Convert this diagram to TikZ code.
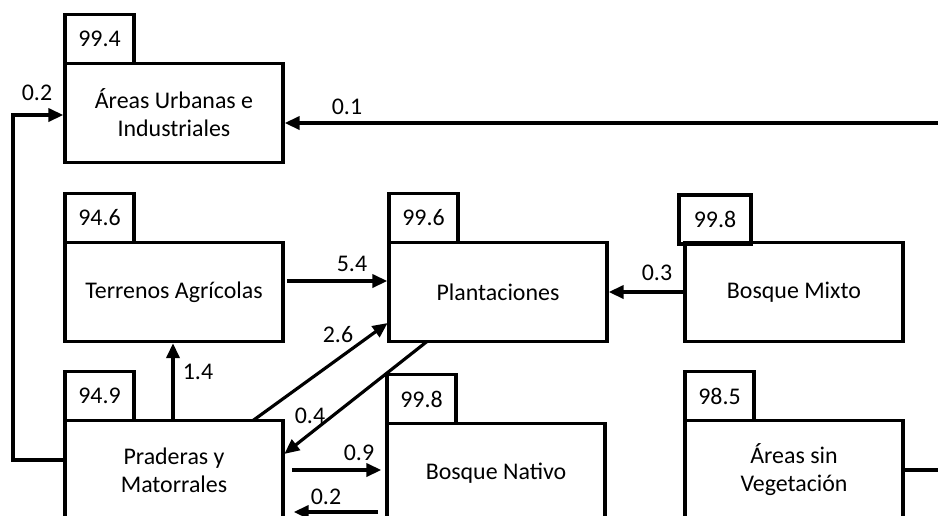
\documentclass[tikz,border=0pt]{standalone}
\usepackage{fontspec}
\setmainfont{Carlito}
\usetikzlibrary{arrows.meta,positioning,calc}

\begin{document}
\begin{tikzpicture}[x=0.02cm,y=-0.02cm,>={Triangle[length=8.5pt,width=7.5pt]},shorten >=1pt,line width=1.8pt,node distance=0pt,
  box/.style={draw,outer sep=0pt,minimum width=4.36cm,minimum height=1.98cm,align=center,font=\fontsize{13.6}{16}\selectfont},
  tab/.style={draw,outer sep=0pt,minimum width=1.38cm,minimum height=0.98cm,inner sep=0pt,font=\fontsize{13.6}{16}\selectfont},
  lbl/.style={font=\fontsize{13.6}{16}\selectfont,inner sep=0pt}]

\useasboundingbox (0,0) rectangle (938,515);
\clip (0,0) rectangle (938,515);

% land-use classes
\node[box] (urb)    at (174,113) {Áreas Urbanas e\\Industriales};
\node[box] (agric)  at (174,292) {Terrenos Agrícolas};
\node[box] (plant)  at (498,292) {Plantaciones};
\node[box] (mixto)  at (794,292) {Bosque Mixto};
\node[box] (prad)   at (174,470) {Praderas y\\Matorrales};
\node[box] (nativo) at (496,473) {Bosque Nativo};
\node[box] (sinveg) at (794,470) {Áreas sin\\Vegetación};

% persistence tabs
\node[tab] (urbT)    [above right=of urb.north west]    {99.4};
\node[tab] (agricT)  [above right=of agric.north west]  {94.6};
\node[tab] (plantT)  [above right=of plant.north west]  {99.6};
\node[tab,minimum width=1.44cm,xshift=-0.12cm,yshift=-0.03cm] (mixtoT) [above right=of mixto.north west] {99.8};
\node[tab] (pradT)   [above right=of prad.north west]   {94.9};
\node[tab] (nativoT) [above right=of nativo.north west] {99.8};
\node[tab] (sinvegT) [above right=of sinveg.north west] {98.5};

\coordinate (farE) at (965,123);
\coordinate (farW) at (13,115);

\draw[->] (sinveg.east) -| (farE) -- ($(urb.east)+(0,10)$);
\draw[->] ($(prad.west)+(0,-10)$) -| (farW) -- ($(urb.west)+(0,2)$);

\path[->] ($(agric.east)+(4,-11)$) edge ($(plant.west)+(0,-11)$)
  (mixto.west) edge (plant.east)
  ($(prad.north)+(-1,0)$) edge ($(agric.south)+(-1,0)$)
  ($(prad.north)+(79,0)$) edge ($(plant.west)+(0,30)$)
  ($(plant.south)+(-71,0)$) edge ($(prad.east)+(0,-15)$)
  ($(prad.east)+(9,0)$) edge ($(nativo.west)+(-4,-3)$)
  ($(nativo.west)+(-9,39)$) edge ($(prad.east)+(9,42)$);

% transition values
\node[lbl] (v1) at (347,107) {0.1};
\node[lbl] (v2) at (37,93)   {0.2};
\node[lbl] (v3) at (352,264) {5.4};
\node[lbl] (v4) at (657,273) {0.3};
\node[lbl] (v5) at (198,372) {1.4};
\node[lbl] (v6) at (338,335) {2.6};
\node[lbl] (v7) at (310,416) {0.4};
\node[lbl] (v8) at (359,453) {0.9};
\node[lbl] (v9) at (326,497) {0.2};

\end{tikzpicture}
\end{document}
